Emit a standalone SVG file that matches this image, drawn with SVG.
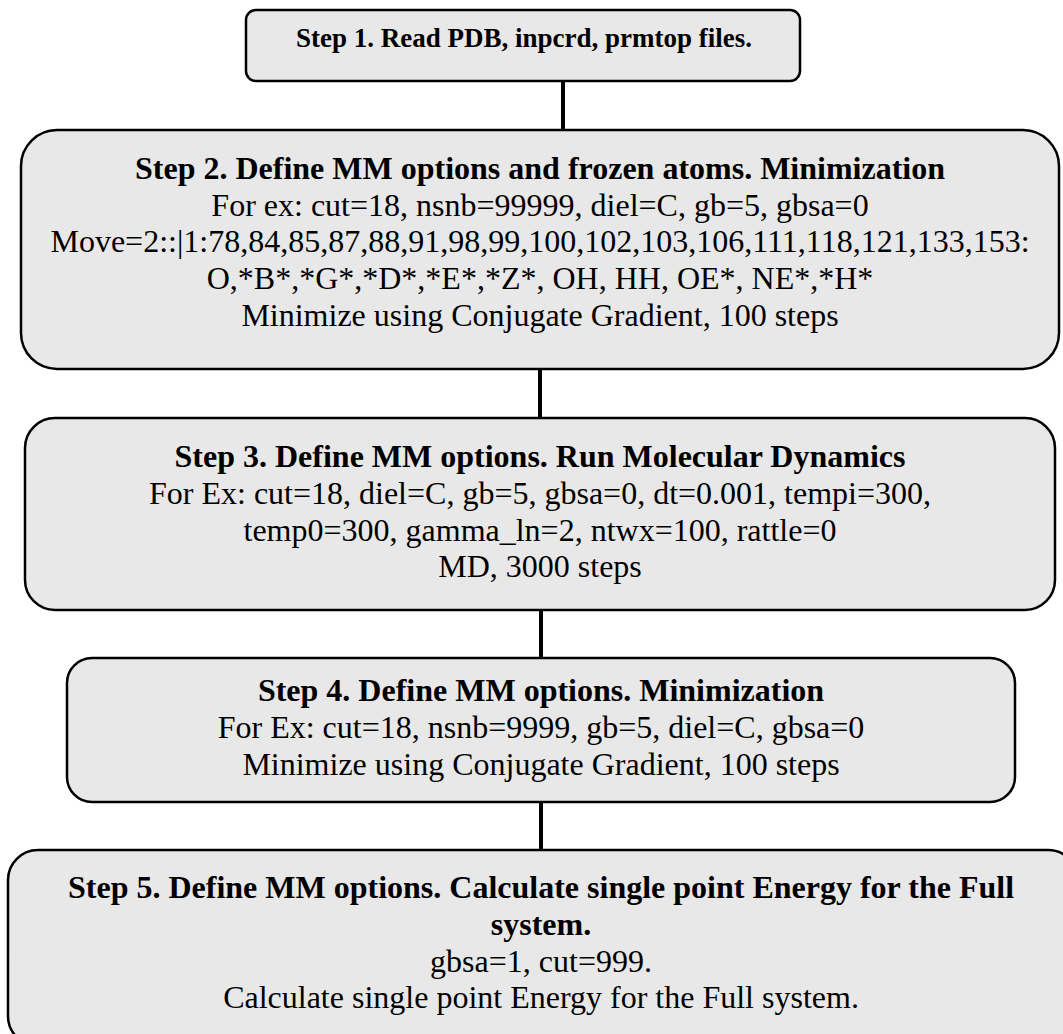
<svg xmlns="http://www.w3.org/2000/svg" width="1063" height="1034" viewBox="0 0 1063 1034">
<style>
.box{fill:#e8e8e8;stroke:#000;stroke-width:2.5}
.t{font-family:"Liberation Serif","Times New Roman",serif;font-size:32px;fill:#000;text-anchor:middle}
.b{font-weight:bold}
.c{stroke:#000;stroke-width:4;fill:none}
</style>
<rect width="1063" height="1034" fill="#fff"/>
<g id="connectors">
<line class="c" x1="563" y1="81" x2="563" y2="130"/>
<line class="c" x1="540" y1="369" x2="540" y2="418"/>
<line class="c" x1="541" y1="610" x2="541" y2="658"/>
<line class="c" x1="541" y1="802" x2="541" y2="850"/>
</g>
<g id="step1">
<rect class="box" x="246" y="10" width="554" height="71" rx="10"/>
<text class="t b" x="524" y="47" style="font-size:27px">Step 1. Read PDB, inpcrd, prmtop files.</text>
</g>
<g id="step2">
<rect class="box" x="21" y="130" width="1038" height="239" rx="36"/>
<text class="t b" x="540" y="179">Step 2. Define MM options and frozen atoms. Minimization</text>
<text class="t" x="540" y="216">For ex: cut=18, nsnb=99999, diel=C, gb=5, gbsa=0</text>
<text class="t" x="540" y="252">Move=2::|1:78,84,85,87,88,91,98,99,100,102,103,106,111,118,121,133,153:</text>
<text class="t" x="540" y="289">O,*B*,*G*,*D*,*E*,*Z*, OH, HH, OE*, NE*,*H*</text>
<text class="t" x="540" y="326">Minimize using Conjugate Gradient, 100 steps</text>
</g>
<g id="step3">
<rect class="box" x="25" y="418" width="1030" height="192" rx="30"/>
<text class="t b" x="540" y="467">Step 3. Define MM options. Run Molecular Dynamics</text>
<text class="t" x="540" y="504">For Ex: cut=18, diel=C, gb=5, gbsa=0, dt=0.001, tempi=300,</text>
<text class="t" x="540" y="541">temp0=300, gamma_ln=2, ntwx=100, rattle=0</text>
<text class="t" x="540" y="577">MD, 3000 steps</text>
</g>
<g id="step4">
<rect class="box" x="67" y="658" width="948" height="144" rx="25"/>
<text class="t b" x="541" y="701">Step 4. Define MM options. Minimization</text>
<text class="t" x="541" y="738">For Ex: cut=18, nsnb=9999, gb=5, diel=C, gbsa=0</text>
<text class="t" x="541" y="775">Minimize using Conjugate Gradient, 100 steps</text>
</g>
<g id="step5">
<rect class="box" x="8" y="850" width="1070" height="196" rx="30"/>
<text class="t b" x="541" y="898">Step 5. Define MM options. Calculate single point Energy for the Full</text>
<text class="t b" x="541" y="935">system.</text>
<text class="t" x="541" y="972">gbsa=1, cut=999.</text>
<text class="t" x="541" y="1008">Calculate single point Energy for the Full system.</text>
</g>
</svg>
